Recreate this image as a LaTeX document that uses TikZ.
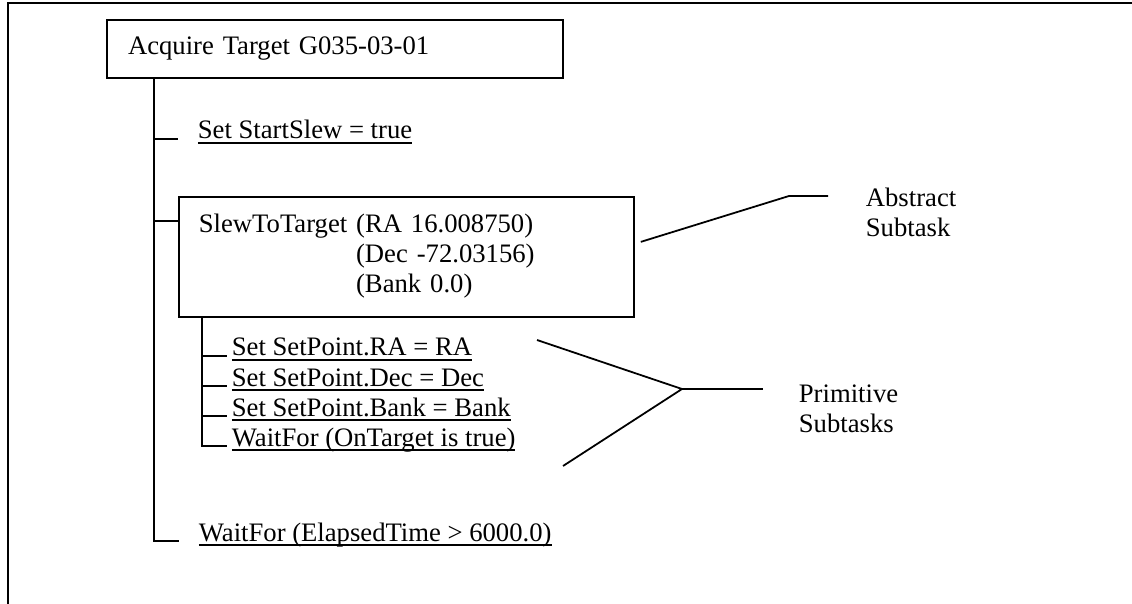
\documentclass[tikz,border=0pt]{standalone}
\usepackage{fontspec}
\setmainfont{Liberation Serif}
\newcommand{\undr}[1]{\setbox0\hbox{#1}\rlap{\rule[-2.2pt]{\wd0}{0.8pt}}\box0}
\begin{document}
\begin{tikzpicture}[x=0.45pt,y=-0.45pt,line width=0.8pt,font=\fontsize{12}{13.5}\selectfont,
        task/.style={draw,anchor=north west,align=left},
        sub/.style={anchor=base west,inner sep=0pt},
        remark/.style={anchor=base west,inner sep=0pt,text width=60pt,align=left}]
        \useasboundingbox (0,0) rectangle (1132,604);
        \draw (8,610)--(8,3)--(1140,3);
        \node[task,text width=186.2pt,inner xsep=9.5pt,minimum height=26.1pt] (acq) at (106,19){Acquire Target G035-03-01};
        \node[task,text width=186.75pt,inner xsep=9pt,minimum height=54pt] (slew) at (178,196){\begin{tabular}{@{}l@{ }l@{}}SlewToTarget&(RA 16.008750)\\&(Dec -72.03156)\\&(Bank 0.0)\end{tabular}};
        \node[sub] (start) at (197,139){\undr{Set StartSlew = true}};
        \node[sub] (ra) at (231,356){\undr{Set SetPoint.RA = RA}};
        \node[sub] (dec) at (231,386){\undr{Set SetPoint.Dec = Dec}};
        \node[sub] (bank) at (231,416){\undr{Set SetPoint.Bank = Bank}};
        \node[sub] (on) at (231,446){\undr{WaitFor (OnTarget is true)}};
        \node[sub] (wait) at (198,541){\undr{WaitFor (ElapsedTime > 6000.0)}};
        \node[remark] (abs) at (865,207){Abstract\\Subtask};
        \node[remark] (prim) at (798,402){Primitive\\Subtasks};
        \coordinate (trunk) at (154,0);
        \coordinate (branch) at (202,0);
        \coordinate (slewtick) at (154,221);
        \draw (trunk|-acq.south)--(trunk|-wait.base)--++(25,0);
        \draw (trunk|-start.base)--++(24,0);
        \draw (slewtick)--(slewtick-|slew.west);
        \draw (branch|-slew.south)--(branch|-on.base)--++(25,0);
        \foreach \t in {ra,dec,bank} \draw (branch|-\t.base)--++(25,0);
        \coordinate (absbend) at (789,196);
        \draw ([shift={(6,-15)}]slew.east)--(absbend)--++(39,0);
        \coordinate (primtop) at (537,340);
        \coordinate (primbot) at (563,466);
        \coordinate (primfork) at (682,389);
        \draw (primtop)--(primfork)--(primbot);
        \draw (primfork)--++(81,0);
    \end{tikzpicture}
\end{document}
